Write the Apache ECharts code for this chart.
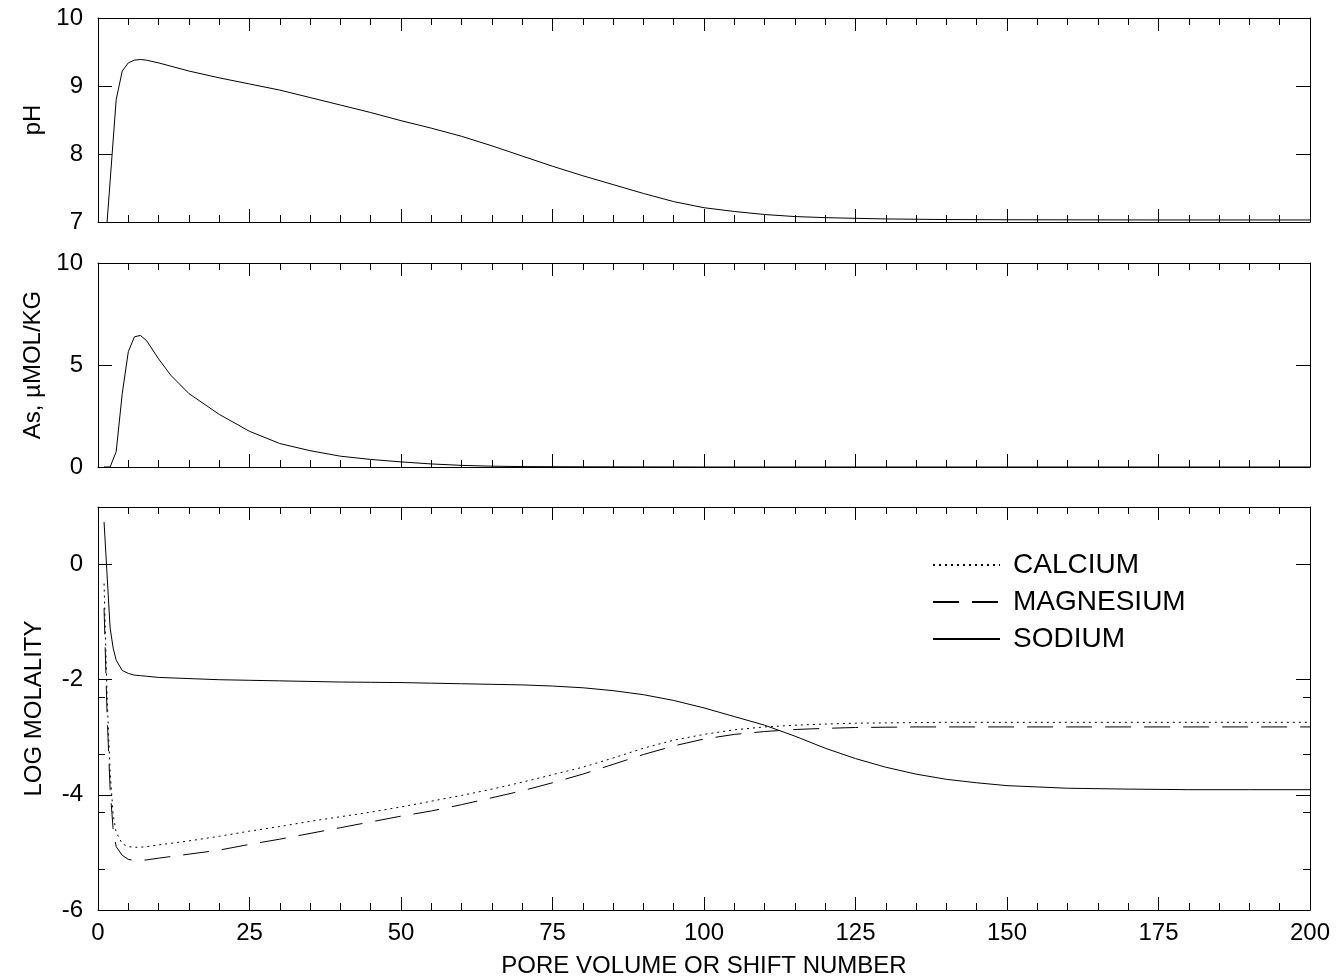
<!DOCTYPE html>
<html>
<head>
<meta charset="utf-8">
<script src="https://cdn.jsdelivr.net/npm/echarts@6/dist/echarts.min.js"></script>
<style>
html,body{margin:0;padding:0;background:#fff;}
#chart{width:1340px;height:979px;}
</style>
</head>
<body>
<div id="chart"></div>
<script>
// ---- data ----
const phX = [1.5, 3, 4, 5, 6, 7, 8, 10, 15, 20, 25, 30, 35, 40, 45, 50, 55, 60, 65, 70, 75, 80, 85, 90, 95, 100, 105, 110, 115, 120, 125, 130, 140, 150, 175, 200];
const phY = [7.0, 8.8, 9.22, 9.34, 9.38, 9.39, 9.38, 9.34, 9.22, 9.12, 9.03, 8.94, 8.83, 8.72, 8.61, 8.49, 8.38, 8.26, 8.12, 7.97, 7.82, 7.68, 7.55, 7.42, 7.3, 7.21, 7.155, 7.11, 7.08, 7.064, 7.054, 7.045, 7.036, 7.033, 7.03, 7.03];

const asX = [1, 2, 3, 4, 5, 6, 7, 8, 10, 12, 15, 20, 25, 30, 35, 40, 45, 50, 55, 60, 65, 70, 80, 100, 150, 200];
const asY = [0, 0, 0.75, 3.6, 5.65, 6.38, 6.45, 6.2, 5.3, 4.5, 3.6, 2.58, 1.75, 1.15, 0.8, 0.53, 0.37, 0.25, 0.15, 0.08, 0.04, 0.02, 0.01, 0, 0, 0];

const shiftX = [1, 1.5, 2, 2.5, 3, 4, 5, 6, 7, 8, 10, 15, 20, 25, 30, 35, 40, 45, 50, 55, 60, 65, 70, 75, 80, 85, 90, 95, 100, 105, 110, 115, 120, 125, 130, 135, 140, 145, 150, 160, 170, 180, 190, 200];
const sodium = [0.74, -0.18, -1.10, -1.45, -1.66, -1.84, -1.89, -1.92, -1.93, -1.94, -1.96, -1.98, -2.00, -2.01, -2.02, -2.03, -2.04, -2.045, -2.05, -2.06, -2.07, -2.08, -2.09, -2.11, -2.14, -2.19, -2.26, -2.36, -2.49, -2.64, -2.79, -2.98, -3.19, -3.37, -3.52, -3.64, -3.73, -3.79, -3.84, -3.885, -3.9, -3.91, -3.91, -3.91];
const calcium = [-0.33, -2.3, -3.6, -4.35, -4.65, -4.85, -4.9, -4.91, -4.91, -4.9, -4.87, -4.80, -4.72, -4.63, -4.55, -4.46, -4.38, -4.3, -4.21, -4.11, -4.01, -3.9, -3.78, -3.65, -3.52, -3.36, -3.19, -3.05, -2.95, -2.87, -2.82, -2.79, -2.77, -2.755, -2.75, -2.745, -2.74, -2.74, -2.74, -2.74, -2.74, -2.74, -2.74, -2.74];
const magnesium = [-0.76, -2.6, -3.9, -4.6, -4.9, -5.05, -5.12, -5.14, -5.14, -5.13, -5.1, -5.03, -4.96, -4.86, -4.77, -4.67, -4.57, -4.47, -4.37, -4.28, -4.17, -4.05, -3.93, -3.79, -3.64, -3.47, -3.30, -3.15, -3.03, -2.95, -2.9, -2.865, -2.845, -2.83, -2.825, -2.82, -2.82, -2.82, -2.82, -2.82, -2.82, -2.82, -2.82, -2.82];

const seriesNames = ['CALCIUM', 'MAGNESIUM', 'SODIUM'];
const xTitle = 'PORE VOLUME OR SHIFT NUMBER';
const yTitles = ['pH', 'As, µMOL/KG', 'LOG MOLALITY'];
const logMinorTicks = [-5.3, -4.3, -3.3, -2.3];

// ---- build chart ----
const FONT = 'Liberation Sans, Arial, sans-serif';
const BLACK = '#000';
const pairs = (xs, ys) => xs.map((x, i) => [x, ys[i]]);

const grids = [
  {left: 98, right: 30, top: 18, height: 204},
  {left: 98, right: 30, top: 263, height: 204},
  {left: 98, right: 30, top: 507, height: 408}
];

const xAxes = [];
grids.forEach((g, i) => {
  ['bottom', 'top'].forEach(pos => {
    xAxes.push({
      gridIndex: i, type: 'value', min: 0, max: 200, interval: 25, position: pos,
      axisLine: {onZero: false, lineStyle: {color: BLACK, width: 1}},
      axisTick: {inside: true, length: 13, lineStyle: {color: BLACK, width: 1}},
      minorTick: {show: true, splitNumber: 5, length: 7, lineStyle: {color: BLACK, width: 1}},
      splitLine: {show: false}, minorSplitLine: {show: false},
      axisLabel: {show: (i === 2 && pos === 'bottom'), margin: 11, fontSize: 24, color: BLACK, fontFamily: FONT},
      name: (i === 2 && pos === 'bottom') ? xTitle : '',
      nameLocation: 'middle', nameGap: 44,
      nameTextStyle: {fontSize: 24, color: BLACK, fontFamily: FONT}
    });
  });
});

const yRanges = [
  {min: 7, max: 10, interval: 1},
  {min: 0, max: 10, interval: 5},
  {min: -6, max: 1, interval: 2}
];

const yAxes = [];
grids.forEach((g, i) => {
  ['left', 'right'].forEach(pos => {
    yAxes.push({
      gridIndex: i, type: 'value', min: yRanges[i].min, max: yRanges[i].max, interval: yRanges[i].interval,
      position: pos,
      axisLine: {onZero: false, lineStyle: {color: BLACK, width: 1}},
      axisTick: {inside: true, length: 14, lineStyle: {color: BLACK, width: 1}},
      splitLine: {show: false},
      axisLabel: {show: pos === 'left', margin: 15, fontSize: 24, color: BLACK, fontFamily: FONT, showMaxLabel: i !== 2},
      name: pos === 'left' ? yTitles[i] : '',
      nameLocation: 'middle', nameGap: 52,
      nameTextStyle: {fontSize: 24, color: BLACK, fontFamily: FONT}
    });
  });
});
['left', 'right'].forEach(pos => {
  yAxes.push({
    gridIndex: 2, type: 'value', min: -6, max: 1, position: pos,
    axisLine: {show: false, onZero: false},
    axisTick: {inside: true, length: 7, customValues: logMinorTicks, lineStyle: {color: BLACK, width: 1}},
    axisLabel: {show: false}, splitLine: {show: false}
  });
});

const lineBase = {type: 'line', showSymbol: false, symbol: 'none', animation: false, silent: true, color: BLACK};

const option = {
  animation: false,
  backgroundColor: '#fff',
  grid: grids,
  xAxis: xAxes,
  yAxis: yAxes,
  legend: {
    data: seriesNames,
    orient: 'vertical', left: 927, top: 545,
    itemWidth: 67, itemHeight: 14, itemGap: 7,
    itemStyle: {opacity: 0, borderWidth: 0},
    textStyle: {fontSize: 28, lineHeight: 30, color: BLACK, fontFamily: FONT, padding: [0, 0, 0, 8]},
    selectedMode: false
  },
  series: [
    Object.assign({}, lineBase, {name: 'pH', xAxisIndex: 0, yAxisIndex: 0, data: pairs(phX, phY),
      lineStyle: {color: BLACK, width: 1}}),
    Object.assign({}, lineBase, {name: 'As', xAxisIndex: 2, yAxisIndex: 2, data: pairs(asX, asY),
      lineStyle: {color: BLACK, width: 1}}),
    Object.assign({}, lineBase, {name: seriesNames[0], xAxisIndex: 4, yAxisIndex: 4, data: pairs(shiftX, calcium),
      lineStyle: {color: BLACK, width: 1, type: [2, 4]}}),
    Object.assign({}, lineBase, {name: seriesNames[1], xAxisIndex: 4, yAxisIndex: 4, data: pairs(shiftX, magnesium),
      lineStyle: {color: BLACK, width: 1, type: [26, 13]}}),
    Object.assign({}, lineBase, {name: seriesNames[2], xAxisIndex: 4, yAxisIndex: 4, data: pairs(shiftX, sodium),
      lineStyle: {color: BLACK, width: 1}})
  ]
};

const chart = echarts.init(document.getElementById('chart'), null, {renderer: 'canvas'});
chart.setOption(option);
</script>
</body>
</html>
